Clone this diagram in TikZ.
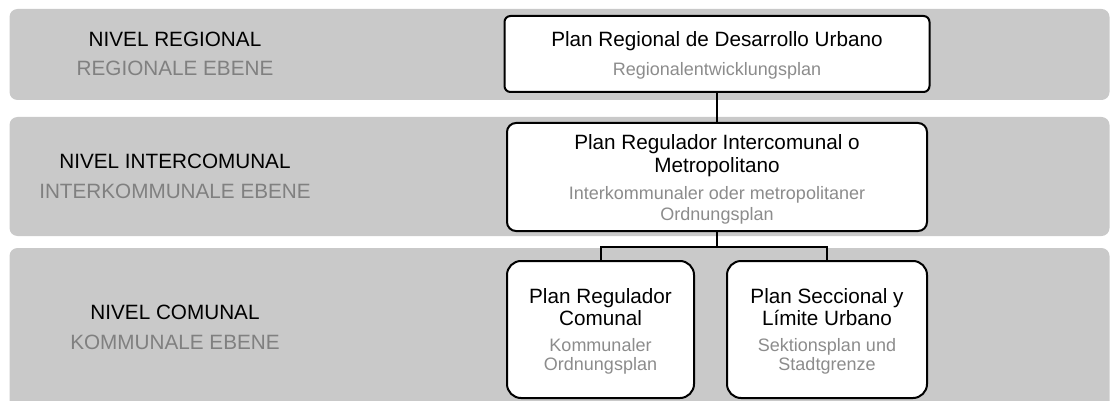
\documentclass[tikz,border=0pt]{standalone}
\usepackage{fontspec}
\setmainfont{Liberation Sans}
\definecolor{bandgray}{RGB}{201,201,201}
\definecolor{lvlgray}{RGB}{128,128,128}
\definecolor{subgray}{RGB}{140,140,140}
\tikzset{
  band/.style={fill=bandgray,rounded corners=8pt},
  planbox/.style={draw,fill=white,line width=2pt,inner sep=0pt},
  lvl/.style={anchor=base,inner sep=0pt,font=\fontsize{20.7}{24}\selectfont},
  lvlsub/.style={lvl,text=lvlgray},
  title/.style={anchor=base,inner sep=0pt,font=\fontsize{20.7}{24}\selectfont},
  sub/.style={anchor=base,inner sep=0pt,font=\fontsize{18}{21}\selectfont,text=subgray},
  link/.style={line width=2pt}
}

\begin{document}
\begin{tikzpicture}[x=1pt,y=-1pt]
\useasboundingbox (0,0) rectangle (1110,401);
\clip (0,0) rectangle (1110,401);

% bands
\fill[band] (9.5,9) rectangle (1109.5,100);
\fill[band] (9.5,117) rectangle (1109.5,236);
\fill[band] (9.5,248) rectangle (1109.5,412);

\node[lvl] (nivReg) at (175,47) {NIVEL REGIONAL};
\node[lvlsub] (ebeReg) at (175,76) {REGIONALE EBENE};
\node[lvl] (nivInt) at (175,168) {NIVEL INTERCOMUNAL};
\node[lvlsub] (ebeInt) at (175,198) {INTERKOMMUNALE EBENE};
\node[lvl] (nivCom) at (175,319) {NIVEL COMUNAL};
\node[lvlsub] (ebeCom) at (175,349) {KOMMUNALE EBENE};

% plans
\node[planbox,minimum width=425pt,minimum height=76pt,rounded corners=6pt] (reg) at (717,54) {};
\node[planbox,minimum width=420pt,minimum height=108pt,rounded corners=9pt] (inter) at (717,177) {};
\node[planbox,minimum width=187pt,minimum height=137pt,rounded corners=14pt] (com) at (600.5,329.5) {};
\node[planbox,minimum width=200pt,minimum height=137pt,rounded corners=14pt] (sec) at (827,329.5) {};

\node[title] (regT) at (717,47) {Plan Regional de Desarrollo Urbano};
\node[sub] (regS) at (717,75.5) {Regionalentwicklungsplan};

\node[title] (intT1) at (717,149) {Plan Regulador Intercomunal o};
\node[title] (intT2) at (717,172) {Metropolitano};
\node[sub] (intS1) at (717,199.5) {Interkommunaler oder metropolitaner};
\node[sub] (intS2) at (717,220.5) {Ordnungsplan};

\node[title] (comT1) at (600.5,303) {Plan Regulador};
\node[title] (comT2) at (600.5,325) {Comunal};
\node[sub] (comS1) at (600.5,351) {Kommunaler};
\node[sub] (comS2) at (600.5,370) {Ordnungsplan};

\node[title] (secT1) at (827,303) {Plan Seccional y};
\node[title] (secT2) at (827,325) {Límite Urbano};
\node[sub] (secS1) at (827,351) {Sektionsplan und};
\node[sub] (secS2) at (827,370) {Stadtgrenze};

% links
\draw[link] (reg) -- (inter);
\path (inter.south) ++(0,15) coordinate (split);
\draw[link] (inter) -- (split);
\draw[link] (split) -| (com.north);
\draw[link] (split) -| (sec.north);
\end{tikzpicture}
\end{document}
